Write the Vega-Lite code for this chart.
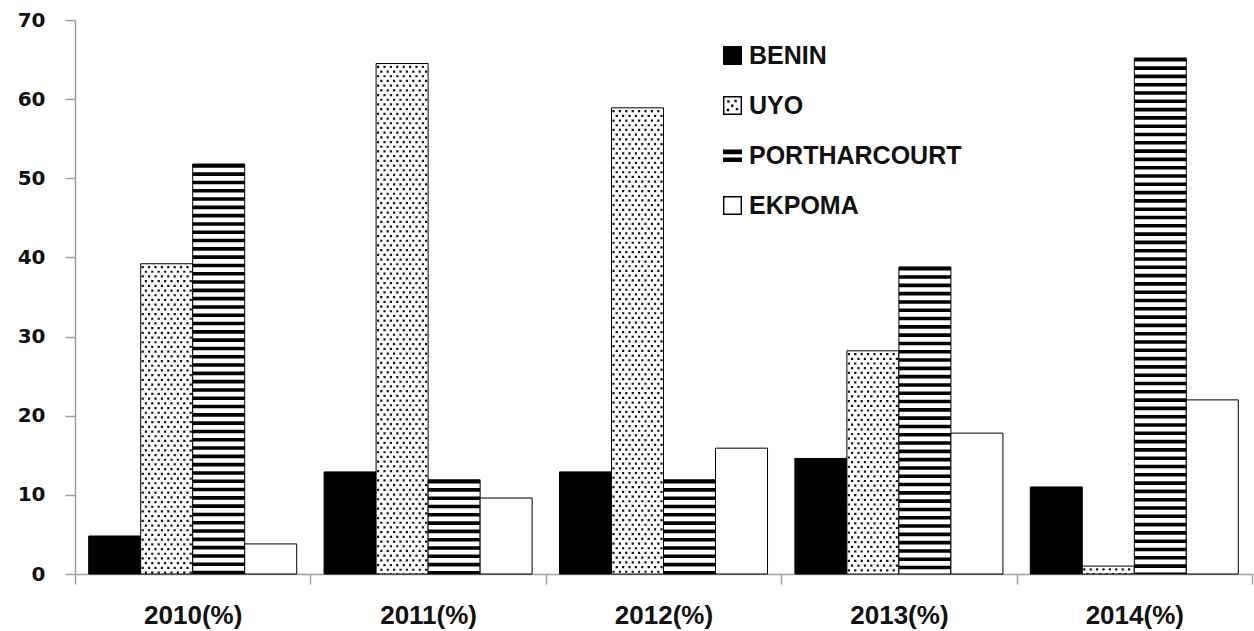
{
  "$schema": "https://vega.github.io/schema/vega-lite/v6.json",
  "width": 1177,
  "height": 554,
  "autosize": "none",
  "padding": {"left": 75, "top": 20, "right": 2, "bottom": 57},
  "background": "white",
  "config": {
    "view": {"stroke": null},
    "axisX": {"tickBand": "extent", "domainColor": "#a0a0a0", "tickColor": "#a0a0a0", "domainWidth": 1.5, "tickWidth": 1.5, "tickSize": 10, "labelFont": "Liberation Sans", "labelFontWeight": "bold", "labelFontSize": 26, "labelPadding": 18, "labelAngle": 0, "labelColor": "#111"},
    "axisY": {"grid": false, "domainColor": "#a0a0a0", "tickColor": "#a0a0a0", "domainWidth": 1.5, "tickWidth": 1.5, "tickSize": 10, "labelFont": "DejaVu Sans", "labelFontWeight": "bold", "labelFontSize": 20, "labelPadding": 20, "labelColor": "#111"}
  },
  "data": {"values": [
    {"year": "2010(%)", "series": "BENIN", "value": 4.8},
    {"year": "2010(%)", "series": "UYO", "value": 39.2},
    {"year": "2010(%)", "series": "PORTHARCOURT", "value": 51.8},
    {"year": "2010(%)", "series": "EKPOMA", "value": 3.8},
    {"year": "2011(%)", "series": "BENIN", "value": 12.9},
    {"year": "2011(%)", "series": "UYO", "value": 64.5},
    {"year": "2011(%)", "series": "PORTHARCOURT", "value": 11.9},
    {"year": "2011(%)", "series": "EKPOMA", "value": 9.6},
    {"year": "2012(%)", "series": "BENIN", "value": 12.9},
    {"year": "2012(%)", "series": "UYO", "value": 58.9},
    {"year": "2012(%)", "series": "PORTHARCOURT", "value": 11.9},
    {"year": "2012(%)", "series": "EKPOMA", "value": 15.9},
    {"year": "2013(%)", "series": "BENIN", "value": 14.6},
    {"year": "2013(%)", "series": "UYO", "value": 28.2},
    {"year": "2013(%)", "series": "PORTHARCOURT", "value": 38.8},
    {"year": "2013(%)", "series": "EKPOMA", "value": 17.8},
    {"year": "2014(%)", "series": "BENIN", "value": 11.0},
    {"year": "2014(%)", "series": "UYO", "value": 1.0},
    {"year": "2014(%)", "series": "PORTHARCOURT", "value": 65.2},
    {"year": "2014(%)", "series": "EKPOMA", "value": 22.0}
  ]},
  "encoding": {
    "y": {"field": "value", "type": "quantitative", "title": null, "scale": {"domain": [0, 70], "nice": false}, "axis": {"values": [0, 10, 20, 30, 40, 50, 60, 70]}}
  },
  "layer": [
    {
      "mark": {"type": "bar", "stroke": "#000", "strokeWidth": 1},
      "encoding": {
        "x": {"field": "year", "type": "nominal", "title": null, "scale": {"paddingInner": 0, "paddingOuter": 0}},
        "xOffset": {"field": "series", "type": "nominal", "sort": ["BENIN", "UYO", "PORTHARCOURT", "EKPOMA"], "scale": {"paddingInner": 0, "paddingOuter": 0.263}},
        "fill": {"condition": {"test": "datum.series === 'BENIN'", "value": "#000000"}, "value": "#ffffff"}
      }
    },
    {
      "mark": {"type": "point", "filled": true, "color": "#000000", "size": 361, "opacity": 0},
      "encoding": {
        "x": {"field": "year", "type": "nominal", "title": null},
        "shape": {"field": "series", "type": "nominal", "sort": ["BENIN", "UYO", "PORTHARCOURT", "EKPOMA"],
          "scale": {"domain": ["BENIN", "UYO", "PORTHARCOURT", "EKPOMA"], "range": [
            "M-1,-1H1V1H-1Z",
            "M-1,-1H1V1H-1Z M-0.85,-0.85V0.85H0.85V-0.85Z M-0.55,-0.55h0.25v0.25h-0.25Z M0.2,-0.6h0.25v0.25h-0.25Z M-0.15,-0.1h0.25v0.25h-0.25Z M0.35,0.25h0.25v0.25h-0.25Z M-0.6,0.35h0.25v0.25h-0.25Z",
            "M-1,-0.62H1V-0.14H-1Z M-1,0.2H1V0.68H-1Z",
            "M-1,-1H1V1H-1Z M-0.85,-0.85V0.85H0.85V-0.85Z"
          ]},
          "legend": {"title": null, "orient": "none", "legendX": 645, "legendY": 23, "padding": 0, "symbolSize": 361, "symbolOpacity": 1, "symbolFillColor": "#000000", "symbolStrokeWidth": 0, "rowPadding": 24, "labelOffset": 4, "labelFont": "Liberation Sans", "labelFontWeight": "bold", "labelFontSize": 25, "labelColor": "#111", "labelLimit": 400}
        }
      }
    },
    {"transform": [{"filter": "datum.series === 'UYO'"}], "mark": {"type": "rule", "stroke": "#111", "strokeWidth": 2.2, "strokeDash": [2.2, 7.2], "strokeDashOffset": 7.2}, "encoding": {"x": {"field": "year", "type": "nominal", "title": null, "bandPosition": 0.2876}, "y2": {"datum": 0}}},
    {"transform": [{"filter": "datum.series === 'UYO'"}], "mark": {"type": "rule", "stroke": "#111", "strokeWidth": 2.2, "strokeDash": [2.2, 7.2], "strokeDashOffset": 2.5}, "encoding": {"x": {"field": "year", "type": "nominal", "title": null, "bandPosition": 0.3012}, "y2": {"datum": 0}}},
    {"transform": [{"filter": "datum.series === 'UYO'"}], "mark": {"type": "rule", "stroke": "#111", "strokeWidth": 2.2, "strokeDash": [2.2, 7.2], "strokeDashOffset": 7.2}, "encoding": {"x": {"field": "year", "type": "nominal", "title": null, "bandPosition": 0.3148}, "y2": {"datum": 0}}},
    {"transform": [{"filter": "datum.series === 'UYO'"}], "mark": {"type": "rule", "stroke": "#111", "strokeWidth": 2.2, "strokeDash": [2.2, 7.2], "strokeDashOffset": 2.5}, "encoding": {"x": {"field": "year", "type": "nominal", "title": null, "bandPosition": 0.3284}, "y2": {"datum": 0}}},
    {"transform": [{"filter": "datum.series === 'UYO'"}], "mark": {"type": "rule", "stroke": "#111", "strokeWidth": 2.2, "strokeDash": [2.2, 7.2], "strokeDashOffset": 7.2}, "encoding": {"x": {"field": "year", "type": "nominal", "title": null, "bandPosition": 0.3420}, "y2": {"datum": 0}}},
    {"transform": [{"filter": "datum.series === 'UYO'"}], "mark": {"type": "rule", "stroke": "#111", "strokeWidth": 2.2, "strokeDash": [2.2, 7.2], "strokeDashOffset": 2.5}, "encoding": {"x": {"field": "year", "type": "nominal", "title": null, "bandPosition": 0.3556}, "y2": {"datum": 0}}},
    {"transform": [{"filter": "datum.series === 'UYO'"}], "mark": {"type": "rule", "stroke": "#111", "strokeWidth": 2.2, "strokeDash": [2.2, 7.2], "strokeDashOffset": 7.2}, "encoding": {"x": {"field": "year", "type": "nominal", "title": null, "bandPosition": 0.3692}, "y2": {"datum": 0}}},
    {"transform": [{"filter": "datum.series === 'UYO'"}], "mark": {"type": "rule", "stroke": "#111", "strokeWidth": 2.2, "strokeDash": [2.2, 7.2], "strokeDashOffset": 2.5}, "encoding": {"x": {"field": "year", "type": "nominal", "title": null, "bandPosition": 0.3828}, "y2": {"datum": 0}}},
    {"transform": [{"filter": "datum.series === 'UYO'"}], "mark": {"type": "rule", "stroke": "#111", "strokeWidth": 2.2, "strokeDash": [2.2, 7.2], "strokeDashOffset": 7.2}, "encoding": {"x": {"field": "year", "type": "nominal", "title": null, "bandPosition": 0.3964}, "y2": {"datum": 0}}},
    {"transform": [{"filter": "datum.series === 'UYO'"}], "mark": {"type": "rule", "stroke": "#111", "strokeWidth": 2.2, "strokeDash": [2.2, 7.2], "strokeDashOffset": 2.5}, "encoding": {"x": {"field": "year", "type": "nominal", "title": null, "bandPosition": 0.4099}, "y2": {"datum": 0}}},
    {"transform": [{"filter": "datum.series === 'UYO'"}], "mark": {"type": "rule", "stroke": "#111", "strokeWidth": 2.2, "strokeDash": [2.2, 7.2], "strokeDashOffset": 7.2}, "encoding": {"x": {"field": "year", "type": "nominal", "title": null, "bandPosition": 0.4235}, "y2": {"datum": 0}}},
    {"transform": [{"filter": "datum.series === 'UYO'"}], "mark": {"type": "rule", "stroke": "#111", "strokeWidth": 2.2, "strokeDash": [2.2, 7.2], "strokeDashOffset": 2.5}, "encoding": {"x": {"field": "year", "type": "nominal", "title": null, "bandPosition": 0.4371}, "y2": {"datum": 0}}},
    {"transform": [{"filter": "datum.series === 'UYO'"}], "mark": {"type": "rule", "stroke": "#111", "strokeWidth": 2.2, "strokeDash": [2.2, 7.2], "strokeDashOffset": 7.2}, "encoding": {"x": {"field": "year", "type": "nominal", "title": null, "bandPosition": 0.4507}, "y2": {"datum": 0}}},
    {"transform": [{"filter": "datum.series === 'UYO'"}], "mark": {"type": "rule", "stroke": "#111", "strokeWidth": 2.2, "strokeDash": [2.2, 7.2], "strokeDashOffset": 2.5}, "encoding": {"x": {"field": "year", "type": "nominal", "title": null, "bandPosition": 0.4643}, "y2": {"datum": 0}}},
    {"transform": [{"filter": "datum.series === 'UYO'"}], "mark": {"type": "rule", "stroke": "#111", "strokeWidth": 2.2, "strokeDash": [2.2, 7.2], "strokeDashOffset": 7.2}, "encoding": {"x": {"field": "year", "type": "nominal", "title": null, "bandPosition": 0.4779}, "y2": {"datum": 0}}},
    {"transform": [{"filter": "datum.series === 'UYO'"}], "mark": {"type": "rule", "stroke": "#111", "strokeWidth": 2.2, "strokeDash": [2.2, 7.2], "strokeDashOffset": 2.5}, "encoding": {"x": {"field": "year", "type": "nominal", "title": null, "bandPosition": 0.4915}, "y2": {"datum": 0}}},
    {"transform": [{"filter": "datum.series === 'PORTHARCOURT'"}], "mark": {"type": "rule", "stroke": "#000", "strokeWidth": 52, "strokeDash": [3.6, 4.7]}, "encoding": {"x": {"field": "year", "type": "nominal", "title": null, "bandPosition": 0.6105}, "y2": {"datum": 0}}}
  ]
}
